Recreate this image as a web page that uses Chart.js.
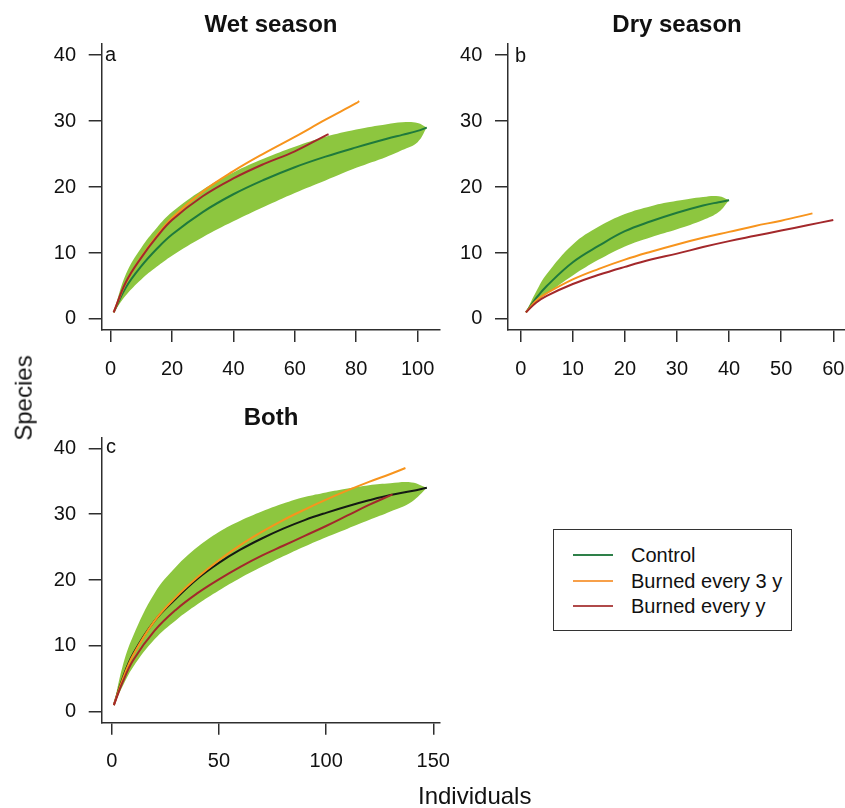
<!DOCTYPE html>
<html>
<head>
<meta charset="utf-8">
<script src="https://cdn.jsdelivr.net/npm/chart.js@4"></script>
<style>
  body { margin: 0; background: #fff; }
  #page { position: relative; width: 845px; height: 808px; overflow: hidden; font-family: "Liberation Sans", Arial, Helvetica, sans-serif; color: #111; }
  canvas { position: absolute; }
  .title { position: absolute; font-weight: bold; font-size: 24px; line-height: 24px; text-align: center; width: 240px; }
  .letter { position: absolute; font-size: 20px; line-height: 20px; }
  .axlab { position: absolute; font-size: 24px; line-height: 24px; white-space: nowrap; }
  #legend { position: absolute; left: 553px; top: 529px; width: 237px; height: 100px; border: 1.5px solid #333; }
  .row { position: absolute; left: 0; font-size: 20px; line-height: 20px; white-space: nowrap; }
  .row span.sw { position: absolute; left: 19px; top: 9px; width: 40px; height: 2px; }
  .row span.tx { position: absolute; left: 77px; top: 0; }
</style>
</head>
<body>
<div id="page">
  <canvas id="wet" width="445" height="400" style="left:0;top:0"></canvas>
  <canvas id="dry" width="405" height="400" style="left:440px;top:0"></canvas>
  <canvas id="both" width="465" height="408" style="left:0;top:400px"></canvas>

  <div class="title" style="left:151px;top:12px">Wet season</div>
  <div class="title" style="left:557px;top:12px">Dry season</div>
  <div class="title" style="left:151px;top:405px">Both</div>

  <div class="letter" style="left:105px;top:44px">a</div>
  <div class="letter" style="left:515px;top:45px">b</div>
  <div class="letter" style="left:106px;top:436px">c</div>

  <div class="axlab" style="left:-19px;top:386px;transform:rotate(-90deg);transform-origin:center">Species</div>
  <div class="axlab" style="left:418px;top:784px">Individuals</div>

  <div id="legend">
    <div class="row" style="top:15px"><span class="sw" style="background:#2e8049"></span><span class="tx">Control</span></div>
    <div class="row" style="top:41px"><span class="sw" style="background:#f7a04a"></span><span class="tx">Burned every 3 y</span></div>
    <div class="row" style="top:66px"><span class="sw" style="background:#b04a4a"></span><span class="tx">Burned every y</span></div>
  </div>
</div>

<script>
// Wet season (panel a)
const wetBandX = [1, 5, 10, 15, 20, 30, 40, 50, 60, 70, 80, 90, 95, 100, 103];
const wetUpper = [1, 6.8, 10.8, 13.8, 16.2, 19.6, 22.2, 24.3, 26.1, 27.6, 28.7, 29.5, 29.8, 29.7, 29.0];
const wetLower = [1, 3.6, 6.0, 7.9, 9.6, 12.4, 14.8, 17.0, 19.1, 21.0, 22.9, 24.6, 25.6, 26.8, 29.0];
const wetControl = [1, 4.8, 8.0, 10.6, 12.8, 16.2, 18.9, 21.1, 23.0, 24.6, 26.0, 27.3, 27.9, 28.5, 29.0];
const wetBurned3X = [1, 5, 10, 15, 20, 30, 40, 50, 60, 70, 80, 81];
const wetBurned3 = [1, 5.5, 9.4, 12.6, 15.3, 19.3, 22.4, 25.1, 27.6, 30.2, 32.7, 33.0];
const wetBurned1X = [1, 5, 10, 15, 20, 30, 40, 50, 60, 70, 71];
const wetBurned1 = [1, 5.6, 9.3, 12.4, 15.0, 18.6, 21.3, 23.5, 25.4, 27.8, 28.0];

// Dry season (panel b)
const dryBandX = [1, 3, 5, 10, 15, 20, 25, 30, 35, 38, 40];
const dryUpper = [1, 4.2, 6.8, 11.3, 14.0, 15.9, 17.1, 17.9, 18.5, 18.6, 18.0];
const dryLower = [1, 2.6, 3.8, 6.6, 9.0, 11.0, 12.4, 13.6, 15.0, 16.2, 18.0];
const dryControl = [1, 3.2, 5.0, 8.6, 11.1, 13.3, 14.8, 16.1, 17.2, 17.7, 18.0];
const dryBurned3X = [1, 3, 5, 10, 15, 20, 25, 30, 35, 40, 45, 50, 56];
const dryBurned3 = [1, 2.8, 3.9, 6.0, 7.6, 9.0, 10.2, 11.3, 12.3, 13.2, 14.1, 14.9, 16.0];
const dryBurned1X = [1, 3, 5, 10, 15, 20, 25, 30, 35, 40, 45, 50, 55, 60];
const dryBurned1 = [1, 2.5, 3.5, 5.3, 6.7, 7.9, 9.0, 9.9, 10.9, 11.8, 12.6, 13.4, 14.2, 15.0];

// Both seasons (panel c)
const bothBandX = [1, 5, 10, 20, 30, 40, 50, 60, 70, 80, 90, 100, 110, 120, 130, 140, 147];
const bothUpper = [1, 6.8, 11.5, 18.0, 22.0, 25.0, 27.3, 29.0, 30.4, 31.6, 32.6, 33.3, 33.9, 34.4, 34.7, 34.8, 34.0];
const bothLower = [1, 3.8, 6.8, 11.0, 13.9, 16.3, 18.4, 20.3, 22.0, 23.6, 25.1, 26.5, 27.8, 29.1, 30.4, 31.9, 34.0];
const bothControl = [1, 5.0, 8.8, 13.8, 17.2, 20.2, 22.6, 24.6, 26.3, 27.8, 29.1, 30.2, 31.2, 32.1, 32.9, 33.5, 34.0];
const bothBurned3X = [1, 5, 10, 20, 30, 40, 50, 60, 70, 80, 90, 100, 110, 120, 130, 137];
const bothBurned3 = [1, 4.8, 8.6, 13.8, 17.4, 20.4, 23.0, 25.3, 27.3, 29.1, 30.7, 32.2, 33.6, 34.9, 36.1, 37.0];
const bothBurned1X = [1, 5, 10, 20, 30, 40, 50, 60, 70, 80, 90, 100, 110, 120, 131];
const bothBurned1 = [1, 4.4, 7.8, 12.3, 15.5, 18.0, 20.1, 22.0, 23.7, 25.2, 26.7, 28.2, 29.8, 31.4, 33.0];

// tick labels
const speciesTicks = [0, 10, 20, 30, 40];
const wetTicks = [0, 20, 40, 60, 80, 100];
const dryTicks = [0, 10, 20, 30, 40, 50, 60];
const bothTicks = [0, 50, 100, 150];

const FONT = '"Liberation Sans", Arial, Helvetica, sans-serif';
const AXIS = '#2e2e2e';
const BAND = '#8dc63f';
const ORANGE = '#f7941d';
const RED = '#a3282b';

const pts = (xs, ys) => xs.map((x, i) => ({ x: x, y: ys[i] }));

function line(data, color) {
    return { data: data, borderColor: color, borderWidth: 2, pointRadius: 0, fill: false, tension: 0.4 };
}

function panel(id, p) {
    new Chart(document.getElementById(id), {
        type: 'line',
        data: {
            datasets: [
                line(pts(p.redX, p.red), RED),
                line(pts(p.orangeX, p.orange), ORANGE),
                line(pts(p.bandX, p.control), p.controlColor),
                { data: pts(p.bandX, p.upper), borderWidth: 0, pointRadius: 0, fill: '+1', backgroundColor: BAND, tension: 0.4 },
                { data: pts(p.bandX, p.lower), borderWidth: 0, pointRadius: 0, fill: false, tension: 0.4 }
            ]
        },
        options: {
            responsive: false,
            devicePixelRatio: 1,
            animation: false,
            layout: { padding: p.padding },
            plugins: { legend: { display: false }, tooltip: { enabled: false } },
            scales: {
                x: {
                    type: 'linear', min: p.xMin, max: p.xMax,
                    afterBuildTicks: s => { s.ticks = p.xTicks.map(v => ({ value: v })); },
                    afterFit: s => { s.height = p.xHeight; s.paddingLeft = 0; s.paddingRight = 0; },
                    grid: { drawOnChartArea: false, tickLength: 12, color: AXIS, lineWidth: 1.5 },
                    border: { color: AXIS, width: 1.5 },
                    ticks: { font: { size: 20, family: FONT }, color: '#111', padding: 15, maxRotation: 0, autoSkip: false }
                },
                y: {
                    min: -1.67, max: 41.67,
                    afterBuildTicks: s => { s.ticks = speciesTicks.map(v => ({ value: v })); },
                    afterFit: s => { s.width = p.yWidth; s.paddingTop = 0; s.paddingBottom = 0; },
                    grid: { drawOnChartArea: false, tickLength: 13, color: AXIS, lineWidth: 1.5 },
                    border: { color: AXIS, width: 1.5 },
                    ticks: { font: { size: 20, family: FONT }, color: '#111', padding: 12.7, autoSkip: false }
                }
            }
        }
    });
}

panel('wet', {
    bandX: wetBandX, upper: wetUpper, lower: wetLower, control: wetControl, controlColor: '#1f7a3c',
    orangeX: wetBurned3X, orange: wetBurned3, redX: wetBurned1X, red: wetBurned1,
    xMin: -2.9, xMax: 107.3, xTicks: wetTicks, xHeight: 70, yWidth: 101.7,
    padding: { top: 44, right: 5, left: 0, bottom: 0 }
});

panel('dry', {
    bandX: dryBandX, upper: dryUpper, lower: dryLower, control: dryControl, controlColor: '#1f7a3c',
    orangeX: dryBurned3X, orange: dryBurned3, redX: dryBurned1X, red: dryBurned1,
    xMin: -2.44, xMax: 62.25, xTicks: dryTicks, xHeight: 70, yWidth: 68,
    padding: { top: 44, right: 0, left: 0, bottom: 0 }
});

panel('both', {
    bandX: bothBandX, upper: bothUpper, lower: bothLower, control: bothControl, controlColor: '#141a14',
    orangeX: bothBurned3X, orange: bothBurned3, redX: bothBurned1X, red: bothBurned1,
    xMin: -4.66, xMax: 152.8, xTicks: bothTicks, xHeight: 85.3, yWidth: 101.7,
    padding: { top: 37.3, right: 25.7, left: 0, bottom: 0 }
});
</script>
</body>
</html>
